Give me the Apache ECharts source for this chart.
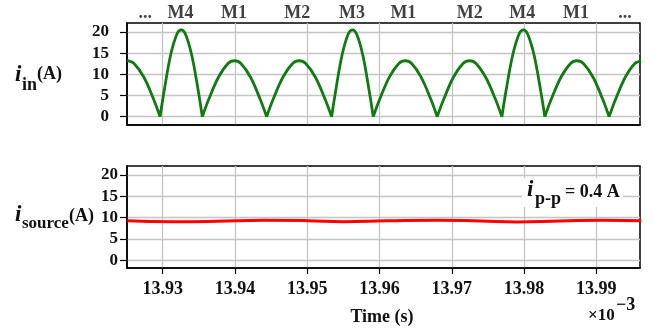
<!DOCTYPE html>
<html>
<head>
<meta charset="utf-8">
<script src="https://cdn.jsdelivr.net/npm/echarts@6/dist/echarts.min.js"></script>
<style>html,body{margin:0;padding:0;background:#fff;}#c{width:654px;height:329px;}</style>
</head>
<body>
<div id="c"></div>
<script>
// ---- data ----
// input current i_in (A): rectified humps, null = break between humps
const iinTime = [
  13.9251, 13.9260, 13.9274, 13.92874, 13.92963, null,
  13.92963, 13.93022, 13.93109, 13.93197, 13.93256, 13.93314, 13.93402, 13.93490, 13.93548, null,
  13.93548, 13.93637, 13.93771, 13.93904, 13.93993, 13.94082, 13.94216, 13.94349, 13.94438, null,
  13.94438, 13.94528, 13.94663, 13.94798, 13.94888, 13.94978, 13.95113, 13.95247, 13.95337, null,
  13.95337, 13.95395, 13.95481, 13.95567, 13.95625, 13.95683, 13.95769, 13.95855, 13.95913, null,
  13.95913, 13.96002, 13.96134, 13.96267, 13.96356, 13.96444, 13.96577, 13.96710, 13.96798, null,
  13.96798, 13.96888, 13.97022, 13.97156, 13.97246, 13.97335, 13.97469, 13.97604, 13.97693, null,
  13.97693, 13.97752, 13.97842, 13.97931, 13.97990, 13.98049, 13.98139, 13.98228, 13.98287, null,
  13.98287, 13.98376, 13.98510, 13.98643, 13.98732, 13.98821, 13.98955, 13.99088, 13.99177, null,
  13.99177, 13.99266, 13.99400, 13.99533, 13.99620
];
const iinValue = [
  13.2, 12.6, 9.3, 4.1, 0, null,
  0, 6.3, 14.5, 19.5, 20.5, 19.5, 14.5, 6.3, 0, null,
  0, 4.1, 9.3, 12.55, 13.2, 12.55, 9.3, 4.1, 0, null,
  0, 4.1, 9.3, 12.55, 13.2, 12.55, 9.3, 4.1, 0, null,
  0, 6.3, 14.5, 19.5, 20.5, 19.5, 14.5, 6.3, 0, null,
  0, 4.1, 9.3, 12.55, 13.2, 12.55, 9.3, 4.1, 0, null,
  0, 4.1, 9.3, 12.55, 13.2, 12.55, 9.3, 4.1, 0, null,
  0, 6.3, 14.5, 19.5, 20.5, 19.5, 14.5, 6.3, 0, null,
  0, 4.1, 9.3, 12.55, 13.2, 12.55, 9.3, 4.1, 0, null,
  0, 4.1, 9.3, 12.55, 13.1
];
// source current i_source (A)
const isrcTime  = [13.9251, 13.9314, 13.9375, 13.9440, 13.9500, 13.9550, 13.9610, 13.9680, 13.9740, 13.9790, 13.9850, 13.9910, 13.9962];
const isrcValue = [9.25,    9.05,    9.15,    9.40,    9.30,    9.05,    9.25,    9.40,    9.20,    9.00,    9.20,    9.40,    9.30];
// switch-state labels above the top plot
const modeNames = ['...', 'M4', 'M1', 'M2', 'M3', 'M1', 'M2', 'M4', 'M1', '...'];
const modeTimes = [13.9276, 13.93245, 13.93988, 13.94860, 13.95618, 13.96330, 13.97250, 13.97975, 13.98720, 13.99398];
// ticks
const xTicks = [13.93, 13.94, 13.95, 13.96, 13.97, 13.98, 13.99];
const yTicks = [0, 5, 10, 15, 20];

// ---- chart ----
const FONT = '"Liberation Serif", "Times New Roman", serif';
const chart = echarts.init(document.getElementById('c'), null, {width: 654, height: 329, renderer: 'canvas'});

function xAxis(gi, showLabels) {
  return {
    type: 'value', gridIndex: gi, min: 13.92506, max: 13.99604,
    axisLine: {show: true, onZero: false, lineStyle: {color: '#000', width: 1.5}},
    axisTick: {show: showLabels, customValues: xTicks, length: 6, inside: false, lineStyle: {color: '#000', width: 1.2}},
    axisLabel: {show: showLabels, customValues: xTicks, margin: 12, color: '#111',
      fontFamily: FONT, fontWeight: 'bold', fontSize: 18,
      formatter: v => Number(v).toFixed(2)},
    splitLine: {show: true, lineStyle: {color: '#c4c4c4', width: 1.3}}
  };
}
function yAxis(gi, margin, min, max) {
  return {
    type: 'value', gridIndex: gi, min: min, max: max,
    axisLine: {show: true, onZero: false, lineStyle: {color: '#000', width: 1.5}},
    axisTick: {show: true, customValues: yTicks, length: 7, inside: false, lineStyle: {color: '#000', width: 1.2}},
    axisLabel: {show: true, customValues: yTicks, margin: margin, color: '#111',
      fontFamily: FONT, fontWeight: 'bold', fontSize: 17},
    splitLine: {show: true, lineStyle: {color: '#c4c4c4', width: 1.3}}
  };
}

const modeData = modeTimes.map((t, i) => ({name: modeNames[i], value: [t, 22]}));

const option = {
  animation: false,
  backgroundColor: '#fff',
  grid: [
    {left: 127, top: 23, width: 513, height: 102, show: true, borderColor: '#000', borderWidth: 1.5, backgroundColor: 'transparent'},
    {left: 127, top: 166, width: 513, height: 102, show: true, borderColor: '#000', borderWidth: 1.5, backgroundColor: 'transparent'}
  ],
  xAxis: [xAxis(0, false), xAxis(1, true)],
  yAxis: [yAxis(0, 18, -1.95, 22.1), yAxis(1, 9, -1.8, 22.1)],
  series: [
    {
      type: 'line', xAxisIndex: 0, yAxisIndex: 0,
      data: iinTime.map((t, i) => [t, iinValue[i] === null ? '-' : iinValue[i]]),
      showSymbol: false, smooth: 0.35, connectNulls: false, clip: true,
      lineStyle: {color: '#127a12', width: 2.8}, z: 3
    },
    {
      type: 'line', xAxisIndex: 1, yAxisIndex: 1,
      data: isrcTime.map((t, i) => [t, isrcValue[i]]),
      showSymbol: false, smooth: 0.5, clip: true,
      lineStyle: {color: '#ff0000', width: 3}, z: 3
    },
    {
      type: 'scatter', xAxisIndex: 0, yAxisIndex: 0,
      data: modeData, symbolSize: 0, clip: false, silent: true,
      label: {show: true, position: 'top', distance: 1, formatter: p => p.name,
        color: '#111', fontFamily: FONT, fontWeight: 'bold', fontSize: 18}
    }
  ],
  graphic: [
    // y label top: i_in (A)
    {type: 'text', x: 15, y: 75, z: 20, style: {text: 'i', font: 'italic bold 23px ' + FONT, fill: '#111', verticalAlign: 'middle'}},
    {type: 'text', x: 22, y: 85, z: 20, style: {text: 'in', font: 'bold 18px ' + FONT, fill: '#111', verticalAlign: 'middle'}},
    {type: 'text', x: 37, y: 74, z: 20, style: {text: '(A)', font: 'bold 18px ' + FONT, fill: '#111', verticalAlign: 'middle'}},
    // y label bottom: i_source (A)
    {type: 'text', x: 15, y: 215, z: 20, style: {text: 'i', font: 'italic bold 23px ' + FONT, fill: '#111', verticalAlign: 'middle'}},
    {type: 'text', x: 22, y: 224, z: 20, style: {text: 'source', font: 'bold 17px ' + FONT, fill: '#111', verticalAlign: 'middle'}},
    {type: 'text', x: 69, y: 216, z: 20, style: {text: '(A)', font: 'bold 18px ' + FONT, fill: '#111', verticalAlign: 'middle'}},
    // annotation i_p-p = 0.4 A
    {type: 'rect', z: 15, shape: {x: 522, y: 178, width: 101, height: 29}, style: {fill: '#fff'}},
    {type: 'text', x: 527, y: 190, z: 20, style: {text: 'i', font: 'italic bold 23px ' + FONT, fill: '#111', verticalAlign: 'middle'}},
    {type: 'text', x: 535, y: 199, z: 20, style: {text: 'p-p', font: 'bold 18px ' + FONT, fill: '#111', verticalAlign: 'middle'}},
    {type: 'text', x: 565, y: 192, z: 20, style: {text: '= 0.4 A', font: 'bold 18px ' + FONT, fill: '#111', verticalAlign: 'middle'}},
    // x axis title
    {type: 'text', x: 382, y: 317, z: 20, style: {text: 'Time (s)', font: 'bold 18px ' + FONT, fill: '#111', align: 'center', verticalAlign: 'middle'}},
    // exponent
    {type: 'text', x: 588, y: 316, z: 20, style: {text: '×10', font: 'bold 17px ' + FONT, fill: '#111', verticalAlign: 'middle'}},
    {type: 'text', x: 616, y: 305, z: 20, style: {text: '−3', font: 'bold 18px ' + FONT, fill: '#111', verticalAlign: 'middle'}}
  ]
};
chart.setOption(option);
</script>
</body>
</html>
